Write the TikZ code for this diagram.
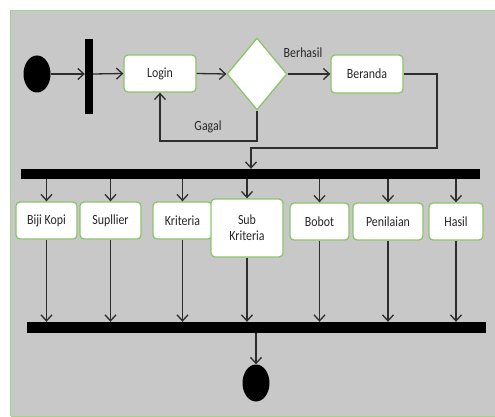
\documentclass[tikz,border=0pt]{standalone}
\usepackage{fontspec}
\setmainfont{Carlito}[FakeStretch=0.85]
\usetikzlibrary{arrows.meta,shapes.geometric}
\definecolor{bg}{HTML}{C8C8C8}
\definecolor{frame}{HTML}{A6D18C}
\definecolor{boxline}{HTML}{8CC46A}
\definecolor{ink}{HTML}{2E2E2E}
\definecolor{txt}{HTML}{262626}
\tikzset{
  act/.style={draw=boxline, line width=1.3pt, fill=white, rounded corners=4pt, inner sep=0pt,
    font=\fontsize{14}{16}\selectfont, text=txt, align=center},
  bar/.style={fill=black, draw=none, inner sep=0pt},
  dot/.style={ellipse, fill=black, draw=none, inner sep=0pt, minimum width=27pt, minimum height=37pt},
  arr/.style={draw=ink, line width=1.3pt, -{Straight Barb[length=6pt,width=11pt,line width=1.3pt]}},
  lbl/.style={font=\fontsize{14}{16}\selectfont, text=txt, inner sep=0pt}
}
\begin{document}
\begin{tikzpicture}[x=1pt,y=-1pt]
\useasboundingbox (0,0) rectangle (495,417);
\fill[white] (0,0) rectangle (495,417);
\fill[bg] (10,10) rectangle (495,416);
\draw[frame, line width=1.2pt] (10.5,416) -- (10.5,10.5) -- (495,10.5);
\draw[frame, line width=1pt] (10.5,416) -- (495,416);

\node[dot] (start) at (37,74) {};
\node[bar, minimum width=8pt, minimum height=75pt] (b1) at (89,76.5) {};
\node[act, minimum width=72pt, minimum height=37pt] (login) at (160,73.5) {Login};
\node[diamond, draw=boxline, line width=1.3pt, fill=white, inner sep=0pt, minimum width=60pt, minimum height=72pt] (dec) at (257,74) {};
\node[act, minimum width=72pt, minimum height=38pt] (ber) at (367,74) {Beranda};
\node[lbl] (lb) at (303,53) {Berhasil};
\node[lbl] (lg) at (208,127) {Gagal};

\draw[arr] (start.east) -- (start.east -| b1.west);
\draw[arr] (start.east -| b1.east) -- (login.west);
\draw[arr] (login.east) -- (dec.west);
\draw[arr] (dec.east) -- (ber.west);
\coordinate (g1) at (257,141);
\draw[arr] (dec.south) -- (g1) -| (login.south);

\node[bar, minimum width=459pt, minimum height=10pt] (fork) at (250.5,174) {};
\coordinate (c1) at (437,148);
\coordinate (c2) at (251,148);
\draw[arr] (ber.east) -| (c1) -- (c2) -- (c2 |- fork.north);

\node[act, minimum width=61pt, minimum height=37pt] (biji) at (46.5,220.5) {Biji Kopi};
\node[act, minimum width=61pt, minimum height=37pt] (sup) at (110.5,220.5) {Supllier};
\node[act, minimum width=59pt, minimum height=37pt] (kri) at (182.5,220.5) {Kriteria};
\node[act, minimum width=72pt, minimum height=58pt] (sub) at (247,228) {Sub\\Kriteria};
\node[act, minimum width=59pt, minimum height=37pt] (bob) at (319.5,221.5) {Bobot};
\node[act, minimum width=70pt, minimum height=37pt] (pen) at (388,221.5) {Penilaian};
\node[act, minimum width=54pt, minimum height=37pt] (has) at (456,221.5) {Hasil};

\node[bar, minimum width=459pt, minimum height=11pt] (join) at (256.5,327.5) {};
\node[dot] (end) at (256,383) {};

\foreach \n in {biji,sup,kri,sub,bob,pen,has}{
  \draw[arr] (fork.south -| \n.north) -- (\n.north);
  \draw[arr] (\n.south) -- (\n.south |- join.north);
}
\draw[arr] (join.south -| end.north) -- (end.north);
\end{tikzpicture}
\end{document}
